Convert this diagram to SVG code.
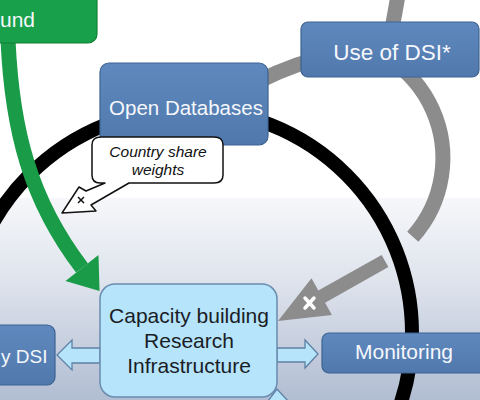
<svg xmlns="http://www.w3.org/2000/svg" width="480" height="400" viewBox="0 0 480 400">
<defs>
<linearGradient id="bg" x1="0" y1="0" x2="0" y2="1">
<stop offset="0" stop-color="#f6f7fa"/>
<stop offset="0.4" stop-color="#dfe4ed"/>
<stop offset="1" stop-color="#b1bdd2"/>
</linearGradient>
<linearGradient id="blue" x1="0" y1="0" x2="0" y2="1">
<stop offset="0" stop-color="#5f89be"/>
<stop offset="1" stop-color="#5078ad"/>
</linearGradient>
<style>
.box{fill:url(#blue);stroke:#3d6391;stroke-width:1.2}
.wt{font-family:"Liberation Sans",Arial,sans-serif;fill:#f5f7fb;text-anchor:middle}
.dk{font-family:"Liberation Sans",Arial,sans-serif;fill:#1b1d26;text-anchor:middle;font-size:21px}
.lb{fill:#b5e4fb;stroke:#5f80a5;stroke-width:1.3}
.gray{fill:none;stroke:#8c8c8c;stroke-width:15}
</style>
</defs>
<rect x="0" y="0" width="480" height="400" fill="#ffffff"/>
<rect x="0" y="198" width="480" height="202" fill="url(#bg)"/>

<g id="connectors">
<circle cx="188" cy="333" r="224" fill="none" stroke="#000000" stroke-width="14"/>
<path class="gray" d="M 399,-10 L 390,40"/>
<path class="gray" d="M 240,92 Q 275,70 320,58"/>
<path class="gray" d="M 325,40 A 118,118 0 0 1 412.8,236.7" stroke-width="14"/>
<polygon fill="#8c8c8c" points="388.4,267.1 381.6,254.9 318.3,290.6 311.5,278.3 278,321 331.9,315.1 325.1,302.8"/>
<g stroke="#ffffff" stroke-width="3.5" stroke-linecap="round">
<line x1="305" y1="298" x2="314" y2="308"/>
<line x1="314" y1="298" x2="305" y2="308"/>
</g>
<path d="M 8,40 C 12,130 30,200 82,268" fill="none" stroke="#1a9b48" stroke-width="15"/>
<polygon fill="#1a9b48" points="98.5,255 65.5,281 99.5,291"/>
<polygon class="lb" points="100,348 72,348 72,340 57,355 72,370 72,363 100,363"/>
<polygon class="lb" points="277,348 305,348 305,340 318,354 305,368 305,362 277,362"/>
<polygon class="lb" points="268,401 277,389 288,401"/>
</g>

<g id="fund">
<rect x="-12" y="-12" width="109" height="55" rx="9" fill="#19a04b" stroke="#128038" stroke-width="1.2"/>
<text x="0" y="27" class="wt" style="text-anchor:start" font-size="21">und</text>
</g>

<g id="open-databases">
<rect class="box" x="100" y="63" width="168" height="82" rx="9"/>
<text x="186" y="115" class="wt" font-size="20.5">Open Databases</text>
</g>

<g id="use-of-dsi">
<rect class="box" x="301" y="22" width="178" height="55" rx="7"/>
<text x="392" y="60" class="wt" font-size="22.5">Use of DSI*</text>
</g>

<g id="callout">
<path d="M 101,137 H 214 Q 223,137 223,145 V 175 Q 223,183 214,183 H 129 L 91,205 L 96,211 L 62,213 L 79,187 L 86,191 L 105,183 H 100 Q 92,183 92,175 V 145 Q 92,137 101,137 Z" fill="#ffffff" stroke="#111111" stroke-width="1.5" stroke-linejoin="round"/>
<g stroke="#111111" stroke-width="1.5">
<line x1="78" y1="197" x2="84" y2="203"/>
<line x1="84" y1="197" x2="78" y2="203"/>
</g>
<text x="158" y="157" font-family="'Liberation Sans',Arial,sans-serif" font-style="italic" font-size="15.5" fill="#111111" text-anchor="middle">Country share</text>
<text x="158" y="175" font-family="'Liberation Sans',Arial,sans-serif" font-style="italic" font-size="15.5" fill="#111111" text-anchor="middle">weights</text>
</g>

<g id="capacity">
<rect x="100" y="284" width="177" height="113" rx="15" fill="#b5e4fb" stroke="#6a8cb0" stroke-width="1.5"/>
<text x="189" y="323" class="dk">Capacity building</text>
<text x="189" y="348" class="dk">Research</text>
<text x="189" y="373" class="dk">Infrastructure</text>
</g>

<g id="dsi-left">
<rect class="box" x="-12" y="325" width="67" height="60" rx="8"/>
<text x="1" y="363" class="wt" style="text-anchor:start" font-size="19">y DSI</text>
</g>

<g id="monitoring">
<rect class="box" x="322" y="333" width="170" height="40" rx="7"/>
<text x="404" y="359" class="wt" font-size="21">Monitoring</text>
</g>
</svg>
